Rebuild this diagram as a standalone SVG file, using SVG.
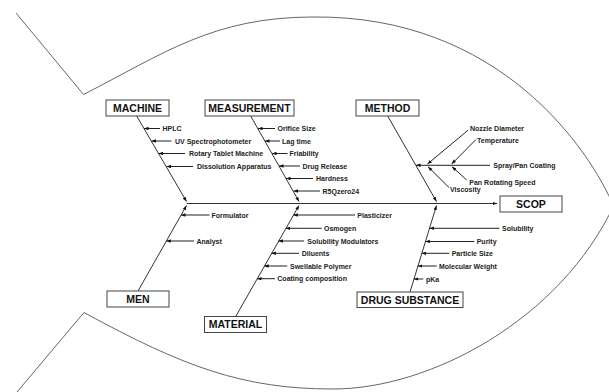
<svg xmlns="http://www.w3.org/2000/svg" width="609" height="392" viewBox="0 0 609 392">
<style>
.bg{fill:#fff}
.outline{fill:none;stroke:#666;stroke-width:1}
.bone{fill:none;stroke:#333;stroke-width:1;marker-end:url(#ah)}
.sub{fill:none;stroke:#222;stroke-width:1;marker-end:url(#ah)}
.box{fill:#fff;stroke:#444;stroke-width:1}
.lbl{font-family:"Liberation Sans",Arial,sans-serif;font-weight:bold;font-size:10.5px;fill:#111;text-anchor:middle}
.t{font-family:"Liberation Sans",Arial,sans-serif;font-weight:bold;font-size:7px;fill:#222}
</style>
<defs>
<marker id="ah" markerUnits="userSpaceOnUse" markerWidth="6" markerHeight="4" refX="4.5" refY="1.7" orient="auto">
<path d="M0,0 L4.5,1.7 L0,3.4 z" fill="#111"/>
</marker>
</defs>
<rect class="bg" x="0" y="0" width="609" height="392"/>
<g id="fish-outline">
<path class="outline" d="M16,13 L83.5,94.5 C163,54 213,17 313,17 C500,15 590,150 614,207"/>
<path class="outline" d="M17,392 L84,312.5 C184,367 243,389 333,389 C430,389 560,320 614,205"/>
</g>
<g id="connectors">
<line class="bone" x1="186.7" y1="203.5" x2="497" y2="203.5"/>
<line class="bone" x1="136.7" y1="116" x2="186.5" y2="201.5"/>
<line class="bone" x1="138" y1="291" x2="186.5" y2="205.5"/>
<line class="bone" x1="250.7" y1="116" x2="299" y2="201.5"/>
<line class="bone" x1="236" y1="316" x2="299" y2="205.5"/>
<line class="bone" x1="387.7" y1="116" x2="436.5" y2="201.5"/>
<line class="bone" x1="410" y1="292" x2="436.5" y2="205.5"/>
<!-- machine -->
<line class="sub" x1="160" y1="128.5" x2="144" y2="128.5"/>
<line class="sub" x1="171.5" y1="141" x2="151.5" y2="141"/>
<line class="sub" x1="185" y1="153.5" x2="158.5" y2="153.5"/>
<line class="sub" x1="193" y1="166.5" x2="166.5" y2="166.5"/>
<!-- measurement -->
<line class="sub" x1="275" y1="128.5" x2="258" y2="128.5"/>
<line class="sub" x1="280" y1="141" x2="265" y2="141"/>
<line class="sub" x1="287.5" y1="153.5" x2="272" y2="153.5"/>
<line class="sub" x1="300" y1="166" x2="279" y2="166"/>
<line class="sub" x1="313" y1="178.5" x2="286" y2="178.5"/>
<line class="sub" x1="320" y1="191" x2="293.5" y2="191"/>
<!-- method -->
<line class="sub" x1="490" y1="165.3" x2="416" y2="165.3"/>
<line class="sub" x1="468.3" y1="130" x2="427.5" y2="164"/>
<line class="sub" x1="449" y1="187.5" x2="428" y2="166.7"/>
<line class="sub" x1="476" y1="139.5" x2="451.7" y2="164"/>
<line class="sub" x1="466.7" y1="180" x2="452" y2="166.7"/>
<!-- men -->
<line class="sub" x1="209.5" y1="215" x2="181" y2="215"/>
<line class="sub" x1="194" y1="241" x2="166.3" y2="241"/>
<!-- material -->
<line class="sub" x1="355" y1="215" x2="293.3" y2="215"/>
<line class="sub" x1="321.7" y1="228.3" x2="285.7" y2="228.3"/>
<line class="sub" x1="304" y1="241" x2="278.4" y2="241"/>
<line class="sub" x1="299" y1="253.3" x2="271.4" y2="253.3"/>
<line class="sub" x1="287.3" y1="266" x2="264.2" y2="266"/>
<line class="sub" x1="275" y1="278.7" x2="257" y2="278.7"/>
<!-- drug substance -->
<line class="sub" x1="499.3" y1="228.3" x2="429.5" y2="228.3"/>
<line class="sub" x1="474.3" y1="241.5" x2="425.4" y2="241.5"/>
<line class="sub" x1="449.3" y1="253.3" x2="421.7" y2="253.3"/>
<line class="sub" x1="436.7" y1="266" x2="417.8" y2="266"/>
<line class="sub" x1="423.3" y1="279" x2="413.8" y2="279"/>
</g>
<g id="machine">
<rect class="box" x="106" y="100" width="63" height="16"/>
<text class="lbl" x="137.5" y="111.8">MACHINE</text>
<text class="t" x="162.5" y="131">HPLC</text>
<text class="t" x="175" y="143.5">UV Spectrophotometer</text>
<text class="t" x="189" y="156">Rotary Tablet Machine</text>
<text class="t" x="197" y="169">Dissolution Apparatus</text>
</g>
<g id="measurement">
<rect class="box" x="205" y="100" width="89" height="16"/>
<text class="lbl" x="249.5" y="111.8">MEASUREMENT</text>
<text class="t" x="277.5" y="131">Orifice Size</text>
<text class="t" x="282" y="143.5">Lag time</text>
<text class="t" x="289.5" y="156">Friability</text>
<text class="t" x="302.5" y="168.5">Drug Release</text>
<text class="t" x="316" y="181">Hardness</text>
<text class="t" x="322.5" y="193.5">R5Qzero24</text>
</g>
<g id="method">
<rect class="box" x="356" y="100" width="63" height="16"/>
<text class="lbl" x="387.5" y="111.8">METHOD</text>
<text class="t" x="470" y="131">Nozzle Diameter</text>
<text class="t" x="477" y="143">Temperature</text>
<text class="t" x="493.3" y="167.8">Spray/Pan Coating</text>
<text class="t" x="469.3" y="184.8">Pan Rotating Speed</text>
<text class="t" x="450" y="191.8">Viscosity</text>
</g>
<g id="scop">
<rect class="box" x="500" y="196" width="62" height="16"/>
<text class="lbl" x="531" y="207.8">SCOP</text>
</g>
<g id="men">
<rect class="box" x="107" y="291" width="62" height="16"/>
<text class="lbl" x="138" y="302.8">MEN</text>
<text class="t" x="211.5" y="217.5">Formulator</text>
<text class="t" x="196.5" y="243.5">Analyst</text>
</g>
<g id="material">
<rect class="box" x="204.5" y="316.5" width="62" height="16"/>
<text class="lbl" x="235.5" y="328.3">MATERIAL</text>
<text class="t" x="357.3" y="217.5">Plasticizer</text>
<text class="t" x="324" y="230.8">Osmogen</text>
<text class="t" x="307.3" y="243.5">Solubility Modulators</text>
<text class="t" x="301.7" y="255.8">Diluents</text>
<text class="t" x="290" y="268.5">Swellable Polymer</text>
<text class="t" x="277.3" y="281.2">Coating composition</text>
</g>
<g id="drug-substance">
<rect class="box" x="357" y="292" width="106" height="15.5"/>
<text class="lbl" x="410" y="303.6">DRUG SUBSTANCE</text>
<text class="t" x="502" y="230.8">Solubility</text>
<text class="t" x="476.7" y="244">Purity</text>
<text class="t" x="451.7" y="255.8">Particle Size</text>
<text class="t" x="439" y="268.5">Molecular Weight</text>
<text class="t" x="426" y="281.5">pKa</text>
</g>
</svg>
